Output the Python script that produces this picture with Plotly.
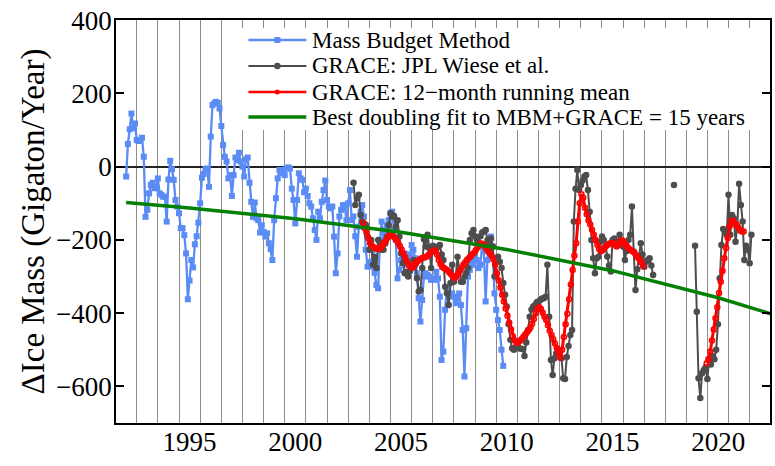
import numpy as np
import plotly.graph_objects as go

# ---------------- data ----------------
mbm_start = 1992.0          # monthly series
mbm_values = [
    -27, 62, 102, 145, 105, 118, 73, 70, 73, 79,
    27, -137, -118, -73, -50, -44, -59, -55, -32, -73,
    -77, -82, -82, -150, -35, 16, -7, -36, -91, -109,
    -127, -168, -168, -187, -237, -362, -311, -255, -275, -212,
    -190, -153, -100, -30, -20, -7, -5, -55, 82, 168,
    173, 177, 174, 159, 111, 59, 27, 14, -32, -23,
    -80, -23, 25, 18, 38, 14, 0, -27, 20, 25,
    -44, -96, -137, -98, -141, -146, -180, -160, -178, -191,
    -182, -209, -225, -255, -146, -86, -32, -9, -18, -9,
    -23, -5, -2, -5, -60, -91, -155, -91, -18, -32,
    -36, -70, -60, -80, -100, -109, -141, -173, -200, -123,
    -141, -96, -64, -38, -91, -109, -114, -109, -191, -291,
    -237, -136, -118, -105, -105, -146, -100, -64, -146, -136,
    -190, -246, -164, -123, -105, -136, -227, -273, -260, -273,
    -227, -290, -323, -332, -205, -150, -200, -173, -160, -146,
    -127, -123, -173, -200, -305, -282, -255, -250, -237, -268,
    -255, -240, -214, -227, -250, -291, -359, -423, -364, -300,
    -291, -296, -300, -309, -305, -309, -287, -305, -355, -528,
    -505, -391, -332, -355, -350, -346, -355, -373, -360, -346,
    -378, -446, -573, -441, -300, -282, -255, -268, -241, -255,
    -277, -268, -218, -230, -368, -255, -200, -191, -218, -346,
    -391, -419, -446, -500, -544,
]

grace_start = 2002.755      # monthly, GRACE
grace_values = [
    -44, -105, -86, -77, -132, -150, -155, -159, -191, -227,
    -200, -268, -246, -277, -200, -209, -227, -227, -210, -191,
    -160, -127, -136, -135, -164, -146, -191, -237, -264, -291,
    -287, -300, -285, -273, -255, -268, -305, -341, -337, -277,
    -198, -218, -186, -223, -277, -216, -228, -225, -218, -214,
    -240, -255, -328, -346, -378, -318, -268, -314, -300, -246,
    -282, -314, -314, -300, -290, -277, -200, -182, -173, -190,
    -200, -209, -190, -180, -177, -173, -200, -228, -196, -218,
    -300, -255, -246, -260, -277, -318, -350, -382, -430, -473,
    -496, -500, -495, -491, -496, -497, -498, -517, -480, -446,
    -410, -390, -382, -378, -370, -368, -364, -360, -359, -355,
    -268, -410, -528, -569, -523, -510, -500, -510, -523, -578,
    -580, -520, -490, -460, -446, -150, -60, -9, -64, -50,
    -38, -27, -23, -64, -123, -200, -250, -291, -250, -246,
    -205, -191, -200, -218, -245, -270, -286, -200, -196, -205,
    -214, -186, -205, -218, -255, -230, -200, -186, -109, -232,
    -337, -280, -246, -209, -240, -273, -260, -255, -250, -270,
    -296,
]
grace_lone_year = [2017.91]
grace_lone_value = [-50]

gracefo_start = 2018.904    # monthly, GRACE-FO
gracefo_values = [
    -216, -396, -578, -632, -564, -555, -548, -580, -528, -540,
    -518, -526, -500, -430, -305, -214, -170, -180, -186, -77,
    -186, -132, -141, -205, -164, -47, -105, -150, -255, -216,
    -227, -264, -186,
]

rm_start = 2003.20          # 12-month running mean (GRACE)
rm_values = [
    -153, -168, -180, -195, -208, -215, -220, -223, -224, -224,
    -222, -215, -208, -202, -194, -185, -186, -190, -194, -201,
    -209, -217, -227, -237, -248, -259, -268, -274, -276, -270,
    -263, -258, -254, -251, -249, -248, -246, -242, -237, -232,
    -230, -228, -240, -255, -266, -274, -277, -280, -283, -289,
    -294, -299, -304, -300, -293, -285, -276, -268, -262, -255,
    -250, -245, -240, -235, -228, -221, -214, -210, -211, -216,
    -224, -231, -237, -243, -253, -268, -291, -311, -330, -350,
    -368, -387, -407, -426, -445, -463, -474, -481, -480, -476,
    -471, -465, -459, -453, -447, -440, -429, -416, -400, -389,
    -383, -389, -399, -410, -419, -433, -448, -460, -471, -483,
    -495, -511, -522, -500, -465, -430, -402, -362, -322, -282,
    -243, -209, -150, -100, -75, -85, -112, -130, -147, -158,
    -172, -186, -200, -213, -225, -231, -228, -222, -216, -213,
    -210, -209, -209, -213, -218, -214, -203, -201, -206, -213,
    -219, -224, -228, -231, -235, -242, -248, -254, -262, -272,
]
rm2_start = 2019.456        # 12-month running mean (GRACE-FO)
rm2_values = [
    -537, -525, -505, -475, -445, -414, -384, -345, -314, -285,
    -250, -222, -195, -163, -149, -148, -156, -159, -166, -174,
    -177, -177,
]

fit_years = [1992, 1995, 2000, 2005, 2010, 2015, 2020, 2023]
fit_values = [-98, -113, -142, -179, -226, -284, -358, -411]

tick_years = [1995, 2000, 2005, 2010, 2015, 2020]
tick_labels = ["1995", "2000", "2005", "2010", "2015", "2020"]
grid_years = [y + 0.5 for y in range(1992, 2022)]
ytick_vals = [400, 200, 0, -200, -400, -600]

legend_names = [
    "Mass Budget Method",
    "GRACE: JPL Wiese et al.",
    "GRACE: 12\u2212month running mean",
    "Best doubling fit to MBM+GRACE = 15 years",
]

# ---------------- styles ----------------
BLUE = "#5b8cf6"
GRAY = "#4d4d4d"
RED = "#ff0000"
GREEN = "#048004"
FONT = "Liberation Serif"


def monthly(start, vals):
    return list(start + np.arange(len(vals)) / 12.0)


mbm_t = monthly(mbm_start, mbm_values)
gr_t = monthly(grace_start, grace_values) + [None] + grace_lone_year + [None] + monthly(gracefo_start, gracefo_values)
gr_v = grace_values + [None] + grace_lone_value + [None] + gracefo_values
rm_t = monthly(rm_start, rm_values) + [None] + monthly(rm2_start, rm2_values)
rm_v = rm_values + [None] + rm2_values

fig = go.Figure()
fig.add_trace(go.Scatter(x=mbm_t, y=mbm_values, mode="lines+markers", name=legend_names[0],
                         line=dict(color=BLUE, width=2.3),
                         marker=dict(symbol="square", size=6, color=BLUE)))
fig.add_trace(go.Scatter(x=gr_t, y=gr_v, mode="lines+markers", name=legend_names[1],
                         connectgaps=False,
                         line=dict(color=GRAY, width=2),
                         marker=dict(symbol="circle", size=6.5, color=GRAY)))
fig.add_trace(go.Scatter(x=rm_t, y=rm_v, mode="lines+markers", name=legend_names[2],
                         connectgaps=False,
                         line=dict(color=RED, width=3),
                         marker=dict(symbol="circle-open", size=5, color=RED, line=dict(width=1.5))))
fig.add_trace(go.Scatter(x=fit_years, y=fit_values, mode="lines", name=legend_names[3],
                         line=dict(color=GREEN, width=3.5)))

# ---------------- layout geometry (pixels) ----------------
W, H = 775, 466
PAGE_L, PAGE_R, PAGE_T, PAGE_B = 115.5, 770, 20, 423
L, T = PAGE_L, PAGE_T
R, B = W - PAGE_R, H - PAGE_B
PW, PH = W - L - R, H - T - B


def pxx(x):
    return (x - L) / PW


def pxy(y):
    return (H - B - y) / PH


shapes = []
annotations = []
# legend background
shapes.append(dict(type="rect", xref="paper", yref="paper", x0=pxx(241), x1=pxx(752),
                   y0=pxy(130), y1=pxy(28), fillcolor="white", line=dict(width=0), layer="above"))
rows_y = [40, 66, 92, 117]
row_styles = [
    dict(color=BLUE, width=2.3, mk="square", ms=6),
    dict(color=GRAY, width=2, mk="circle", ms=6.5),
    dict(color=RED, width=2.5, mk="circle", ms=5),
    dict(color=GREEN, width=3.5, mk=None, ms=0),
]
for name, yc, st in zip(legend_names, rows_y, row_styles):
    shapes.append(dict(type="line", xref="paper", yref="paper", x0=pxx(248), x1=pxx(306),
                       y0=pxy(yc), y1=pxy(yc), line=dict(color=st["color"], width=st["width"]),
                       layer="above"))
    if st["mk"]:
        h = st["ms"] / 2
        shapes.append(dict(type="rect" if st["mk"] == "square" else "circle",
                           xref="paper", yref="paper",
                           x0=pxx(277 - h), x1=pxx(277 + h), y0=pxy(yc + h), y1=pxy(yc - h),
                           fillcolor=st["color"], line=dict(width=0), layer="above"))
    annotations.append(dict(xref="paper", yref="paper", x=pxx(310), y=pxy(yc), xanchor="left",
                            yanchor="middle", text=name, showarrow=False,
                            font=dict(family=FONT, size=23, color="black")))

fig.update_layout(
    width=W, height=H,
    margin=dict(l=L, r=R, t=T, b=B, autoexpand=False),
    paper_bgcolor="white", plot_bgcolor="white",
    showlegend=False,
    font=dict(family=FONT, color="black"),
    shapes=shapes, annotations=annotations,
)
fig.update_xaxes(
    range=[1991.52, 2022.45], tickmode="array", tickvals=tick_years, ticktext=tick_labels,
    ticks="", showgrid=False, zeroline=False,
    minor=dict(tickmode="array", tickvals=grid_years, showgrid=True, gridcolor="#8c8c8c",
               gridwidth=1.2, ticks=""),
    showline=True, linecolor="black", linewidth=1.5, mirror=True,
    tickfont=dict(family=FONT, size=27, color="black"),
    ticklabelstandoff=-6,
)
fig.update_yaxes(
    range=[-700, 400.5], tickmode="array", tickvals=ytick_vals,
    ticks="inside", ticklen=8, tickwidth=1.5, tickcolor="black",
    showgrid=False, zeroline=True, zerolinecolor="#222222", zerolinewidth=1.5,
    showline=True, linecolor="black", linewidth=1.5, mirror="ticks",
    tickfont=dict(family=FONT, size=27, color="black"),
    ticklabelstandoff=-3, ticklabeloverflow="allow",
    title=dict(text="\u0394Ice Mass (Gigaton/Year)", font=dict(family=FONT, size=33, color="black"),
               standoff=2),
)

# remove the default 8px page margin so the figure sits at the window's top-left corner
fig.write_html("out.html",
               config={"displayModeBar": False},
               post_script="document.body.style.margin='0';document.body.style.overflow='hidden';")
